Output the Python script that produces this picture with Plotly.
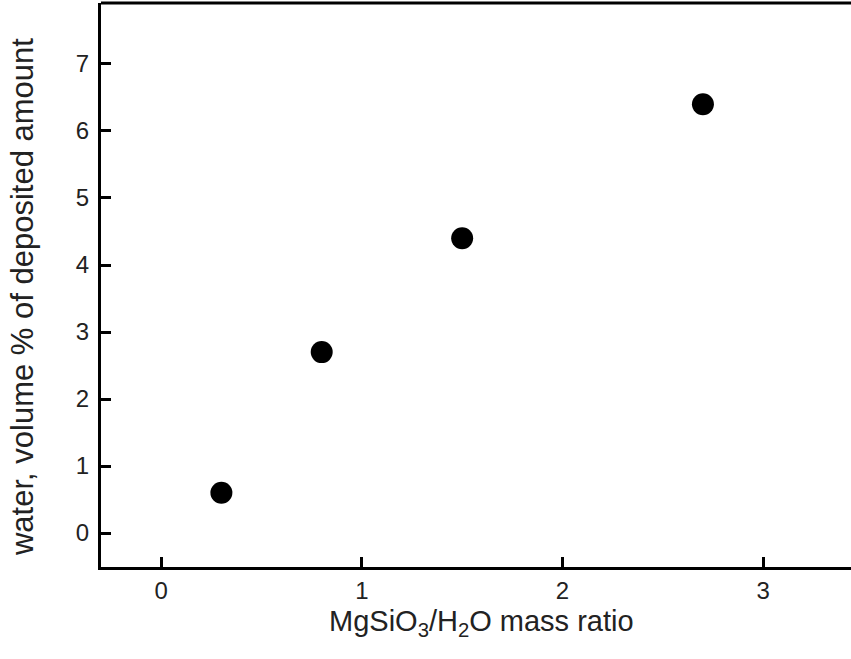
import plotly.graph_objects as go

# MgSiO3/H2O mass ratio vs. water content of the deposit
mass_ratio = [0.3, 0.8, 1.5, 2.7]
water_pct = [0.6, 2.7, 4.4, 6.4]

x_ticks = [0, 1, 2, 3]
y_ticks = [0, 1, 2, 3, 4, 5, 6, 7]

x_title = "MgSiO<sub>3</sub>/H<sub>2</sub>O mass ratio"
y_title = "water, volume % of deposited amount"

FONT = "Arial"
TEXT = "#222222"

fig = go.Figure(
    go.Scatter(
        x=mass_ratio,
        y=water_pct,
        mode="markers",
        marker=dict(color="black", size=22, line=dict(width=0)),
        showlegend=False,
    )
)

axis_common = dict(
    showline=True,
    linecolor="black",
    linewidth=3,
    ticks="inside",
    ticklen=10,
    tickwidth=2.5,
    tickcolor="black",
    showgrid=False,
    zeroline=False,
    tickfont_size=24,
)

fig.update_layout(
    width=851,
    height=659,
    margin=dict(l=101, r=0, t=3, b=92),
    paper_bgcolor="white",
    plot_bgcolor="white",
    font=dict(family=FONT, size=22, color=TEXT),
    xaxis=dict(
        range=[-0.3, 3.438],
        tickvals=x_ticks,
        ticktext=[str(v) for v in x_ticks],
        ticklabelstandoff=0,
        **axis_common,
    ),
    yaxis=dict(
        range=[-0.507, 7.91],
        tickvals=y_ticks,
        ticktext=[str(v) for v in y_ticks],
        ticklabelstandoff=4,
        **axis_common,
    ),
)

# axis titles placed as annotations for exact positioning
fig.add_annotation(
    text=x_title, xref="paper", yref="paper", x=0.5, y=0,
    xanchor="center", yanchor="top", xshift=5, yshift=-36,
    showarrow=False, font=dict(size=29),
)
fig.add_annotation(
    text=y_title, xref="paper", yref="paper", x=0, y=0.4787,
    xanchor="center", yanchor="middle", xshift=-79, textangle=-90,
    showarrow=False, font=dict(size=31),
)

# top frame line (the plot area runs on past the right edge)
fig.add_shape(type="line", xref="paper", yref="paper", x0=0, x1=1.01, y0=1, y1=1,
              line=dict(color="black", width=3))

fig.write_html("out.html")
